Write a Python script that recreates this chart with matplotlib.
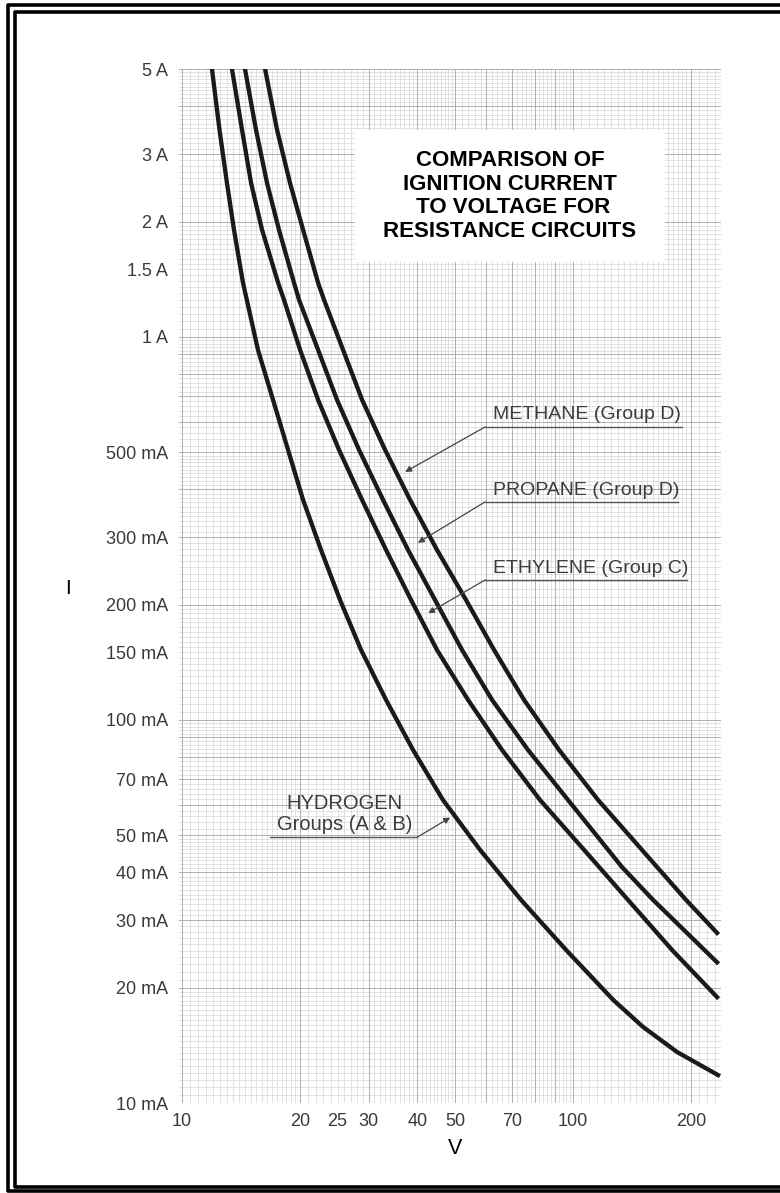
import numpy as np
import matplotlib.pyplot as plt
from matplotlib.lines import Line2D
from matplotlib.patches import Rectangle

plt.rcParams['font.family'] = ['Liberation Sans', 'DejaVu Sans']

# values: voltage (V) and ignition current (A)
h2_v = [11.93, 12.47, 13.03, 13.58, 14.32, 15.64, 17.09, 18.67, 20.40, 22.67, 25.36, 28.70,
        33.25, 38.98, 46.50, 57.83, 73.62, 95.97, 126.6, 151.0, 184.5, 234.9]
h2_i = [5.0, 3.47, 2.52, 1.903, 1.384, 0.925, 0.685, 0.507, 0.3754, 0.2779, 0.2057, 0.1523,
        0.1128, 0.0835, 0.0618, 0.0458, 0.0339, 0.0251, 0.0186, 0.0158, 0.01359, 0.01183]

eth_v = [13.42, 14.24, 15.02, 16.02, 17.61, 18.23, 20.04, 22.28, 25.21, 28.87, 33.25, 38.52,
         44.88, 53.89, 65.83, 82.33, 106.7, 138.2, 179.1, 233.5]
eth_i = [5.0, 3.47, 2.52, 1.903, 1.384, 1.249, 0.925, 0.685, 0.507, 0.3754, 0.2779, 0.2057,
         0.1523, 0.1128, 0.0835, 0.0618, 0.0458, 0.0339, 0.0251, 0.0189]

prop_v = [14.49, 15.46, 16.50, 17.70, 19.34, 19.92, 22.28, 24.91, 28.36, 32.67, 37.84, 44.36,
          52.02, 62.07, 76.70, 97.10, 133.4, 160.2, 233.5]
prop_i = [5.0, 3.47, 2.52, 1.903, 1.384, 1.249, 0.925, 0.685, 0.507, 0.3754, 0.2779, 0.2057,
          0.1523, 0.1128, 0.0835, 0.0618, 0.0413, 0.0339, 0.0233]

meth_v = [16.31, 17.50, 18.89, 20.40, 22.28, 23.08, 25.81, 28.87, 33.06, 38.30, 44.88, 53.25,
          62.81, 74.93, 92.09, 115.9, 164.0, 194.5, 233.5]
meth_i = [5.0, 3.47, 2.52, 1.903, 1.384, 1.249, 0.925, 0.685, 0.507, 0.3754, 0.2779, 0.2057,
          0.1523, 0.1128, 0.0835, 0.0618, 0.0413, 0.0339, 0.0278]

x_ticks = [10, 20, 25, 30, 40, 50, 70, 100, 200]
y_ticks = [5, 3, 2, 1.5, 1, 0.5, 0.3, 0.2, 0.15, 0.1, 0.07, 0.05, 0.04, 0.03, 0.02, 0.01]
y_labels = ['5 A', '3 A', '2 A', '1.5 A', '1 A', '500 mA', '300 mA', '200 mA', '150 mA',
            '100 mA', '70 mA', '50 mA', '40 mA', '30 mA', '20 mA', '10 mA']

fig = plt.figure(figsize=(7.8, 11.93), dpi=100)
ax = fig.add_axes([0.2295, 0.0754, 0.6949, 0.8667])
ax.set_xscale('log')
ax.set_yscale('log')
ax.set_xlim(9.825, 239)
ax.set_ylim(0.01, 5)

# graph paper grid
fine = np.concatenate([np.arange(1, 2, 0.05), np.arange(2, 5, 0.1), np.arange(5, 10, 0.2)])
xs = np.concatenate([fine * 10, fine * 100, [1000]])
ys = np.concatenate([fine * 0.01, fine * 0.1, fine, [10]])
for v in xs:
    ax.axvline(v, color='#d6d6d6', lw=0.5, zorder=0)
for v in ys:
    ax.axhline(v, color='#d6d6d6', lw=0.5, zorder=0)
for d in [10, 100]:
    for m in range(1, 10):
        ax.axvline(m * d, color='#b0b0b0', lw=0.7, zorder=0)
for d in [0.01, 0.1, 1]:
    for m in range(1, 10):
        ax.axhline(m * d, color='#b0b0b0', lw=0.7, zorder=0)

for v, i in [(h2_v, h2_i), (eth_v, eth_i), (prop_v, prop_i), (meth_v, meth_i)]:
    ax.plot(v, i, color='#1a1a1a', lw=3.1, solid_joinstyle='round', zorder=3)

ax.set_xticks(x_ticks)
ax.set_xticklabels([str(t) for t in x_ticks])
ax.set_yticks(y_ticks)
ax.set_yticklabels(y_labels)
ax.minorticks_off()
ax.tick_params(length=0, labelsize=13, colors='#3a3a3a')
ax.tick_params(axis='y', pad=8)
ax.tick_params(axis='x', pad=7)
for s in ax.spines.values():
    s.set_visible(False)

fig.text(68 / 780, 1 - 588 / 1193, 'I', fontsize=15, ha='center', va='center')
fig.text(455 / 780, 1 - 1148 / 1193, 'V', fontsize=15.5, ha='center', va='center')

# title box
ax.add_patch(Rectangle((0.3247, 0.8133), 0.572, 0.1277, transform=ax.transAxes,
                       facecolor='white', edgecolor='none', zorder=4))
ax.text(0.6107, 0.8772, 'COMPARISON OF\nIGNITION CURRENT\n TO VOLTAGE FOR\nRESISTANCE CIRCUITS',
        transform=ax.transAxes, ha='center', va='center', fontsize=16, fontweight='bold',
        linespacing=1.17, zorder=5)

# curve labels: text, underline, leader with arrow
labels = [
    ('METHANE (Group D)', 62.4, 0.626, 59.6, 190.0, 0.582, 37.2, 0.444),
    ('PROPANE (Group D)', 62.4, 0.398, 59.6, 185.6, 0.371, 40.1, 0.290),
    ('ETHYLENE (Group C)', 62.4, 0.249, 59.6, 195.7, 0.232, 42.6, 0.190),
]
for txt, tx, ty, u0, u1, uy, ax_v, ax_i in labels:
    ax.text(tx, ty, txt, fontsize=14, color='#3c3c3c', ha='left', va='center', zorder=4)
    ax.plot([u0, u1], [uy, uy], color='#555555', lw=1.0, zorder=4)
    ax.annotate('', xy=(ax_v, ax_i), xytext=(u0, uy),
                arrowprops=dict(arrowstyle='-|>', color='#444444', lw=0.9,
                                mutation_scale=9, shrinkA=0, shrinkB=0), zorder=4)

ax.text(26.1, 0.0607, 'HYDROGEN', fontsize=14.5, color='#3c3c3c', ha='center', va='center', zorder=4)
ax.text(26.1, 0.0535, 'Groups (A & B)', fontsize=14.5, color='#3c3c3c', ha='center', va='center', zorder=4)
ax.plot([16.8, 39.9], [0.0494, 0.0494], color='#555555', lw=1.0, zorder=4)
ax.annotate('', xy=(48.5, 0.0556), xytext=(39.9, 0.0494),
            arrowprops=dict(arrowstyle='-|>', color='#444444', lw=0.9,
                            mutation_scale=9, shrinkA=0, shrinkB=0), zorder=4)

# double page frame
def frame(x0, y0, y1, lw):
    pts = [(800, y0), (x0, y0), (x0, y1), (800, y1)]
    fx = [p[0] / 780 for p in pts]
    fy = [1 - p[1] / 1193 for p in pts]
    fig.add_artist(Line2D(fx, fy, color='black', lw=lw, transform=fig.transFigure))

frame(8, 4.5, 1191, 2.6)
frame(15, 11.5, 1186.5, 2.6)

fig.savefig('out.png', dpi=100)
